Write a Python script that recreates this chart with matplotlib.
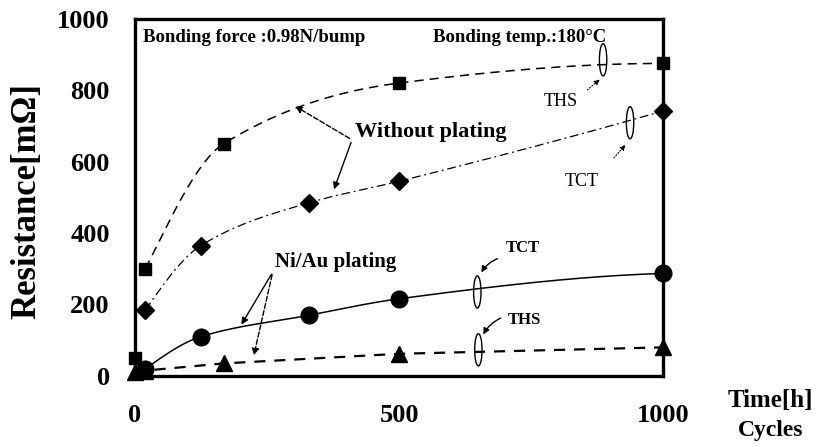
import numpy as np
import matplotlib.pyplot as plt
from matplotlib.patches import Ellipse

# THS (hours) / TCT (cycles)
ths_hours = [0, 20, 168, 500, 1000]
ths_without = [50, 300, 650, 820, 875]
ths_niau = [10, 15, 35, 62, 80]

tct_cycles = [20, 125, 330, 500, 1000]
tct_without = [185, 365, 485, 545, 742]
tct_niau = [20, 110, 170, 216, 287]

x_ticks = [0, 500, 1000]
y_ticks = [0, 200, 400, 600, 800, 1000]


def smooth(x, y, n=200):
    # monotone cubic (Fritsch-Carlson) curve through the points, just for drawing
    x = np.asarray(x, float)
    y = np.asarray(y, float)
    h = np.diff(x)
    d = np.diff(y) / h
    m = np.zeros_like(y)
    for k in range(1, len(x) - 1):
        if d[k - 1] * d[k] > 0:
            w1 = 2 * h[k] + h[k - 1]
            w2 = h[k] + 2 * h[k - 1]
            m[k] = (w1 + w2) / (w1 / d[k - 1] + w2 / d[k])
    m[0] = ((2 * h[0] + h[1]) * d[0] - h[0] * d[1]) / (h[0] + h[1])
    if m[0] * d[0] <= 0:
        m[0] = 0
    m[-1] = ((2 * h[-1] + h[-2]) * d[-1] - h[-1] * d[-2]) / (h[-1] + h[-2])
    if m[-1] * d[-1] <= 0:
        m[-1] = 0
    xs = np.linspace(x[0], x[-1], n)
    i = np.clip(np.searchsorted(x, xs) - 1, 0, len(x) - 2)
    t = (xs - x[i]) / h[i]
    h00 = 2 * t**3 - 3 * t**2 + 1
    h10 = t**3 - 2 * t**2 + t
    h01 = -2 * t**3 + 3 * t**2
    h11 = t**3 - t**2
    ys = h00 * y[i] + h10 * h[i] * m[i] + h01 * y[i + 1] + h11 * h[i] * m[i + 1]
    return xs, ys


serif = 'Liberation Serif'
plt.rcParams['font.family'] = [serif, 'DejaVu Serif']
plt.rcParams['font.weight'] = 'bold'

fig = plt.figure(figsize=(8.22, 4.47), dpi=100)
ax = fig.add_axes([0.164, 0.159, 0.643, 0.799])

# curves
xs, ys = smooth(ths_hours[1:], ths_without[1:])
ax.plot(xs, ys, color='k', lw=1.1, dashes=(6, 4))
xs, ys = smooth(tct_cycles, tct_without)
ax.plot(xs, ys, color='k', lw=0.9, dashes=(7, 3, 1.5, 3))
xs, ys = smooth(tct_cycles, tct_niau)
ax.plot(xs, ys, color='k', lw=1.1)
ax.plot(ths_hours, ths_niau, color='k', lw=1.6, dashes=(5, 4))

# markers
ax.plot(ths_hours, ths_without, 's', color='k', ms=9, clip_on=False)
ax.plot(tct_cycles, tct_without, 'D', color='k', ms=9, clip_on=False)
ax.plot(tct_cycles, tct_niau, 'o', color='k', ms=12, clip_on=False)
ax.plot(ths_hours, ths_niau, '^', color='k', ms=11, clip_on=False)

ax.set_xlim(0, 1000)
ax.set_ylim(0, 1000)
ax.set_xticks(x_ticks)
ax.set_yticks(y_ticks)
ax.tick_params(length=0, labelsize=19)
ax.tick_params(axis='y', pad=18)
ax.tick_params(axis='x', pad=20)
for lab in ax.get_xticklabels() + ax.get_yticklabels():
    lab.set_fontweight('bold')
for sp in ax.spines.values():
    sp.set_linewidth(2.4)

ax.set_ylabel('Resistance[mΩ]', fontsize=25, fontweight='bold', va='center')
ax.yaxis.set_label_coords(-0.205, 0.49)
fig.text(0.937, 0.105, 'Time[h]', ha='center', va='center', fontsize=18, fontweight='bold')
fig.text(0.937, 0.038, 'Cycles', ha='center', va='center', fontsize=17, fontweight='bold')

ax.text(15, 947, 'Bonding force :0.98N/bump', fontsize=13.5, fontweight='bold', va='center')
ax.text(564, 947, 'Bonding temp.:180°C', fontsize=13.5, fontweight='bold', va='center')

# group labels with arrows
ax.text(417, 683, 'Without plating', fontsize=16, fontweight='bold', va='center')
ax.annotate('', xy=(299, 759), xytext=(411, 661),
            arrowprops=dict(arrowstyle='-|>', lw=1, ls='--', color='k', mutation_scale=10))
ax.annotate('', xy=(375, 515), xytext=(411, 661),
            arrowprops=dict(arrowstyle='-|>', lw=1, color='k', mutation_scale=10))

ax.text(265, 319, 'Ni/Au plating', fontsize=15, fontweight='bold', va='center')
ax.annotate('', xy=(199, 137), xytext=(261, 291),
            arrowprops=dict(arrowstyle='-|>', lw=1, color='k', mutation_scale=10))
ax.annotate('', xy=(224, 50), xytext=(261, 291),
            arrowprops=dict(arrowstyle='-|>', lw=1, ls='--', color='k', mutation_scale=10))

# ellipses marking the curves
for cx, cy in [(886, 885), (937, 709), (648, 235), (650, 73)]:
    ax.add_patch(Ellipse((cx, cy), 14, 90, fill=False, lw=1, color='k'))

ax.text(805, 768, 'THS', fontsize=13, fontweight='normal', ha='center', va='center')
ax.annotate('', xy=(884, 835), xytext=(852, 796),
            arrowprops=dict(arrowstyle='-|>', lw=0.8, ls=':', color='k', mutation_scale=8))
ax.text(846, 543, 'TCT', fontsize=13, fontweight='normal', ha='center', va='center')
ax.annotate('', xy=(932, 653), xytext=(903, 605),
            arrowprops=dict(arrowstyle='-|>', lw=0.8, ls=':', color='k', mutation_scale=8))

ax.text(735, 358, 'TCT', fontsize=12, fontweight='bold', ha='center', va='center')
ax.annotate('', xy=(653, 283), xytext=(691, 331),
            arrowprops=dict(arrowstyle='-|>', lw=1, color='k', mutation_scale=9,
                            connectionstyle='arc3,rad=0.2'))
ax.text(738, 157, 'THS', fontsize=12, fontweight='bold', ha='center', va='center')
ax.annotate('', xy=(657, 109), xytext=(697, 165),
            arrowprops=dict(arrowstyle='-|>', lw=1, color='k', mutation_scale=9,
                            connectionstyle='arc3,rad=0.2'))

fig.savefig('out.png', dpi=100)
